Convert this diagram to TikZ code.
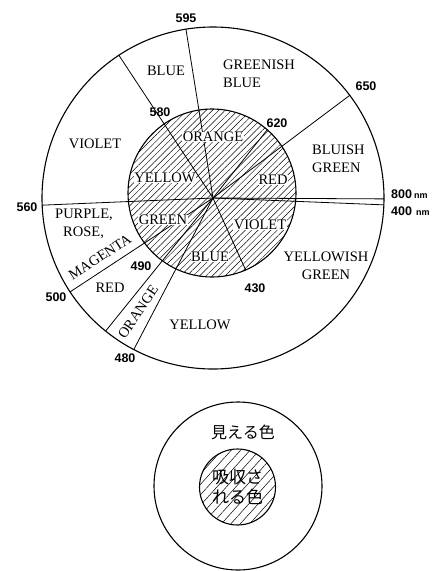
\documentclass[tikz,border=0pt]{standalone}
\usepackage{fontspec}
\setmainfont{Liberation Serif}
\setsansfont{Liberation Sans}
\newfontfamily\jpfont{Noto Sans CJK JP}
\usetikzlibrary{patterns.meta}
\newcommand{\unitnm}{{\fontsize{9}{9}\selectfont nm}}

\begin{document}
\begin{tikzpicture}[x=1pt, y=1pt,
  every node/.style={inner sep=1pt},
  hue/.style={font=\fontsize{14.5}{18}\selectfont},
  inhue/.style={hue, fill=white, inner sep=0.4pt},
  wl/.style={font=\sffamily\bfseries\fontsize{12.5}{13}\selectfont},
  rim/.style={line width=1.1pt},
  spoke/.style={line width=0.8pt},
  hatch/.style={pattern={Lines[angle=45, distance=4.5pt, line width=0.45pt]}},
  hatchwide/.style={pattern={Lines[angle=48, distance=7pt, line width=0.5pt]}},
  jp/.style={font=\jpfont\fontsize{16}{20}\selectfont}
]
\useasboundingbox (0,0) rectangle (435,-571);
\coordinate (o)  at (213,-198);
\coordinate (ic) at (212,-193);
\draw[rim] (o) circle[radius=171];
\draw[rim, hatch] (ic) circle[radius=84];
% spokes through both rings
\foreach \ang in {123.4, 99.1, 36.9, -0.3, -2.3, 182.4, 213.3, 231.1, 242.4}
  \draw[spoke] (o) -- ++(\ang:171);
% spokes of the inner ring only
\foreach \ang/\len in {51.5/87, -65.6/79}
  \draw[spoke] (o) -- ++(\ang:\len);

\node[wl] (w595) at (186,-18)  {595};
\node[wl] (w650) at (366,-86)  {650};
\node[wl] (w580) at (160,-112) {580};
\node[wl] (w620) at (277,-123) {620};
\node[wl, anchor=west] (w800) at (390,-194) {800\,\unitnm};
\node[wl, anchor=west] (w400) at (390,-211) {400\,\,\unitnm};
\node[wl] (w560) at (27,-207)  {560};
\node[wl] (w490) at (141,-266) {490};
\node[wl] (w500) at (56,-297)  {500};
\node[wl] (w480) at (125,-358) {480};
\node[wl] (w430) at (255,-288) {430};

\node[hue] (oviolet) at (95,-144) {VIOLET};
\node[hue] (oblue)   at (166,-71) {BLUE};
\node[hue, anchor=west, align=left] (ogb) at (222,-74)  {GREENISH\\BLUE};
\node[hue, anchor=west, align=left] (obg) at (311,-159) {BLUISH\\GREEN};
\node[hue, align=center] (oyg) at (326,-266) {YELLOWISH\\GREEN};
\node[hue] (oyellow) at (200,-325) {YELLOW};
\node[hue] (ored)    at (110,-288) {RED};
\node[hue, rotate=56] (oorange) at (138,-312) {ORANGE};
\node[hue, rotate=33] (omagenta) at (100,-257) {MAGENTA};
\node[hue, anchor=west, align=left] (opr) at (54,-224) {PURPLE,\\\hspace{8pt}ROSE,};

\node[inhue] (iorange) at (213,-137) {ORANGE};
\node[inhue] (iyellow) at (165,-178) {YELLOW};
\node[inhue] (ired)    at (273,-180) {RED};
\node[inhue] (igreen)  at (163,-220) {GREEN};
\node[inhue] (iviolet) at (260,-225) {VIOLET};
\node[inhue] (iblue)   at (210,-257) {BLUE};

% key
\coordinate (k)  at (238,-486);
\coordinate (kc) at (237.5,-487);
\draw[rim] (k) circle[radius=84];
\draw[rim, hatchwide] (kc) circle[radius=38];
\node[jp] (seen) at (243,-432) {見える色};
\node[jp, align=center, font=\jpfont\fontsize{17}{20}\selectfont] (absorbed) at (kc) {吸収さ\\れる色};
\end{tikzpicture}
\end{document}
